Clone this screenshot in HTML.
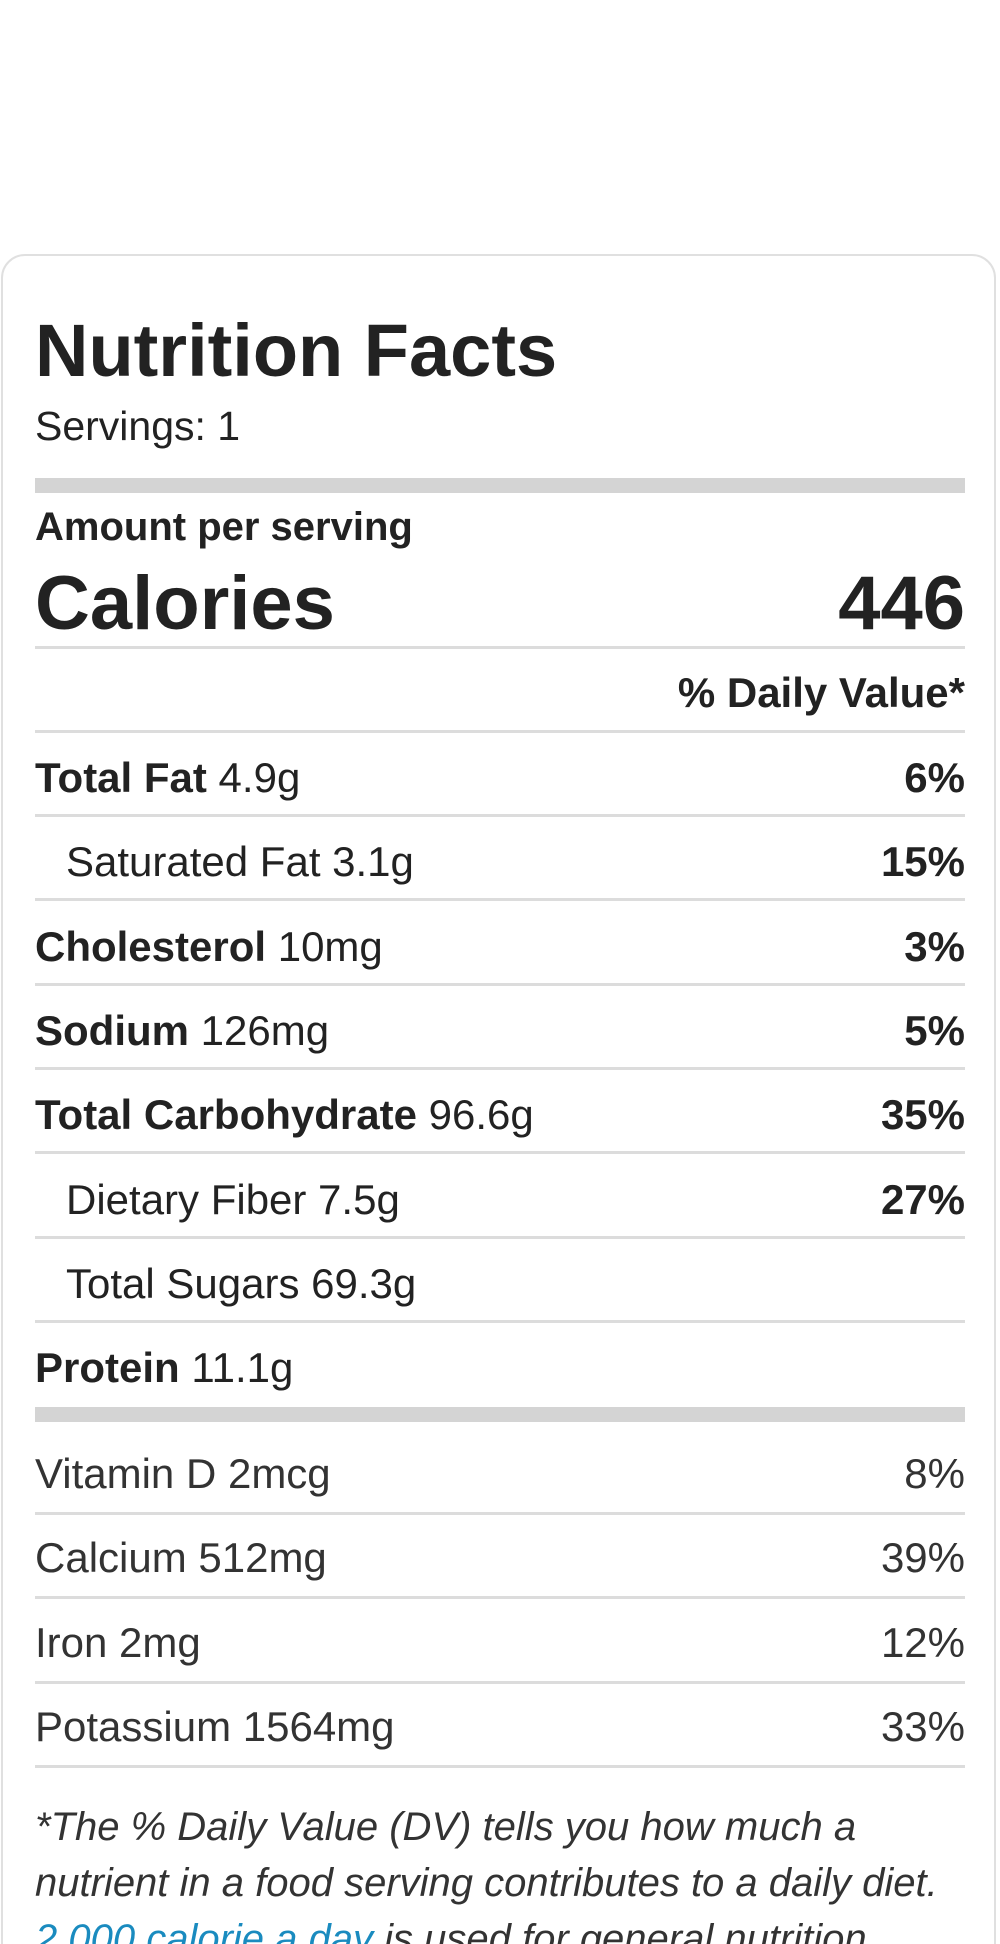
<!DOCTYPE html>
<html><head><meta charset="utf-8"><style>
html,body{margin:0;padding:0;background:#fff;width:1000px;height:1944px;overflow:hidden;position:relative;font-family:"Liberation Sans",Arial,sans-serif;color:#222}
.card{position:absolute;left:1px;top:254px;width:995px;height:1760px;border:2px solid #e0e0e0;border-radius:24px;box-sizing:border-box}
.t{position:absolute;line-height:1;white-space:nowrap}
.r{right:35px;text-align:right}
.l{left:35px}
.hr{position:absolute;left:35px;width:930px;height:3px;background:#dcdcdc}
.thick{position:absolute;left:35px;width:930px;height:15px;background:#d4d4d4}
b{font-weight:bold}
.v{color:#333}
.foot{position:absolute;left:35px;top:1799px;width:940px;font-size:40px;line-height:56px;font-style:italic;color:#333}
.foot a{color:#1a8bbf;text-decoration:underline}
</style></head><body>
<div class="card"></div>
<div class="t l" style="top:314px;font-size:74px;font-weight:bold">Nutrition Facts</div>
<div class="t l" style="top:406px;font-size:41px">Servings: 1</div>
<div class="thick" style="top:478px"></div>
<div class="t l" style="top:507px;font-size:40px;font-weight:bold">Amount per serving</div>
<div class="t l" style="top:566px;font-size:76px;font-weight:bold">Calories</div>
<div class="t r" style="top:566px;font-size:76px;font-weight:bold">446</div>
<div class="hr" style="top:646px"></div>
<div class="t r" style="top:672px;font-size:42px;font-weight:bold">% Daily Value*</div>
<div class="hr" style="top:730px"></div>
<div id="rows"></div>
<div class="thick" style="top:1407px"></div>
<div class="foot">*The % Daily Value (DV) tells you how much a nutrient in a food serving contributes to a daily diet. <a>2,000 calorie a day</a> is used for general nutrition advice.</div>
<script>
const labels=["Total Fat","Saturated Fat","Cholesterol","Sodium","Total Carbohydrate","Dietary Fiber","Total Sugars","Protein"];
const amounts=["4.9g","3.1g","10mg","126mg","96.6g","7.5g","69.3g","11.1g"];
const pcts=["6%","15%","3%","5%","35%","27%","",""];
const boldLabel=[true,false,true,true,true,false,false,true];
const vLabels=["Vitamin D","Calcium","Iron","Potassium"];
const vAmounts=["2mcg","512mg","2mg","1564mg"];
const vPcts=["8%","39%","12%","33%"];
const root=document.body;
function add(html,cls,top,style){const d=document.createElement('div');d.className='t '+cls;d.style.top=top+'px';d.style.fontSize='42px';if(style)d.style.cssText+=style;d.innerHTML=html;root.appendChild(d);return d;}
labels.forEach((lab,i)=>{
  const top=757+84.3*i;
  const indent=boldLabel[i]?'':'left:66px;';
  const d=add((boldLabel[i]?'<b>'+lab+'</b>':lab)+' '+amounts[i],'l',top,indent);
  
  
  if(pcts[i]){const p=add('<b>'+pcts[i]+'</b>','r',top);
    
    }
  if(i<7){const h=document.createElement('div');h.className='hr';h.style.top=(814+84.3*i)+'px';
    
    
    root.appendChild(h);}
});
vLabels.forEach((lab,i)=>{
  const top=1453+84.3*i;
  const d=add(lab+' '+vAmounts[i],'l v',top);
  
  
  const p=add(vPcts[i],'r v',top);
  
  
  const h=document.createElement('div');h.className='hr';h.style.top=(1512+84.3*i)+'px';
  
  
  root.appendChild(h);
});
</script>
</body></html>
